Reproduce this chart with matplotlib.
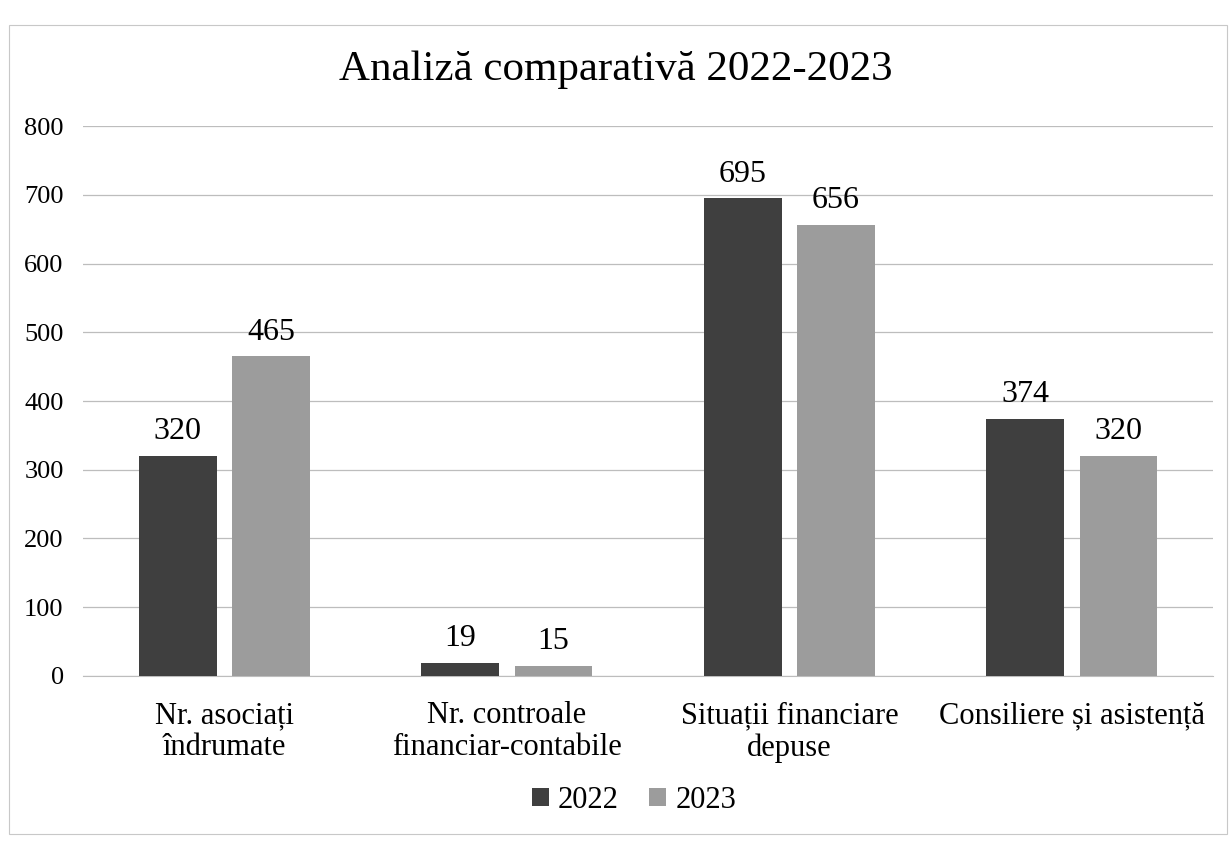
import matplotlib.pyplot as plt
import numpy as np

plt.rcParams['font.family'] = ['Liberation Serif', 'DejaVu Serif']

# date
categorii = ['Nr. asociați\nîndrumate', 'Nr. controale\nfinanciar-contabile',
             'Situații financiare\ndepuse', 'Consiliere și asistență']
valori_2022 = [320, 19, 695, 374]
valori_2023 = [465, 15, 656, 320]
ani = ['2022', '2023']

fig = plt.figure(figsize=(12.31, 8.46), dpi=100)
ax = fig.add_axes([0.0675, 0.201, 0.918, 0.65])

x = np.arange(len(categorii))
w = 0.275
b1 = ax.bar(x - 0.165, valori_2022, w, color='#3f3f3f', label=ani[0], zorder=3)
b2 = ax.bar(x + 0.165, valori_2023, w, color='#9c9c9c', label=ani[1], zorder=3)

# etichete valori
for bars in (b1, b2):
    for r in bars:
        ax.annotate(str(int(r.get_height())),
                    (r.get_x() + r.get_width() / 2, r.get_height()),
                    xytext=(0, 7), textcoords='offset points',
                    ha='center', va='bottom', fontsize=23)

ax.set_ylim(0, 800)
ax.set_xlim(-0.5, 3.5)
ax.set_yticks(range(0, 801, 100))
ax.tick_params(axis='y', labelsize=19, length=0, pad=14)
ax.set_xticks(x)
ax.set_xticklabels(categorii, fontsize=22, linespacing=1.15)
ax.tick_params(axis='x', length=0, pad=18)
ax.grid(axis='y', color='#bdbdbd', linewidth=0.9, zorder=0)
for s in ['top', 'right', 'left']:
    ax.spines[s].set_visible(False)
ax.spines['bottom'].set_color('#bdbdbd')

fig.text(0.5, 0.918, 'Analiză comparativă 2022-2023', fontsize=31,
         ha='center', va='center')

h, l = ax.get_legend_handles_labels()
fig.legend(h, l, loc='center', bbox_to_anchor=(0.515, 0.054), ncol=2,
           frameon=False, fontsize=22, handlelength=0.55, handleheight=0.55,
           handletextpad=0.3, columnspacing=1.0)

# chenar
fig.patches.append(plt.Rectangle((0.007, 0.014), 0.99, 0.956,
                                 transform=fig.transFigure, fill=False,
                                 edgecolor='#c8c8c8', linewidth=0.8))

plt.savefig('out.png', dpi=100)
